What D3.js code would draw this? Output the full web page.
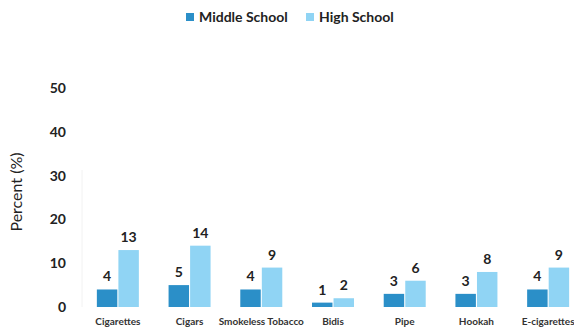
<!DOCTYPE html>
<html>
<head>
<meta charset="utf-8">
<script src="https://cdn.jsdelivr.net/npm/d3@7"></script>
<style>
  body { margin: 0; background: #fff; }
  text { font-family: Lato, "Open Sans", sans-serif; }
</style>
</head>
<body>
<svg width="574" height="327"></svg>
<script>
var categories = ['Cigarettes', 'Cigars', 'Smokeless Tobacco', 'Bidis', 'Pipe', 'Hookah', 'E-cigarettes'];
var series = ['Middle School', 'High School'];
var middleSchool = [4, 5, 4, 1, 3, 3, 4];
var highSchool = [13, 14, 9, 2, 6, 8, 9];
var yTicks = [0, 10, 20, 30, 40, 50];
var colors = ['#2b8fc8', '#90d4f4'];

var svg = d3.select('svg');

var x0 = d3.scaleBand()
    .domain(categories)
    .range([82, 584]);

var mid = x0.bandwidth() / 2;
var x1 = d3.scaleBand()
    .domain(series)
    .range([mid - 21, mid + 21])
    .paddingInner(0.05);

var y = d3.scaleLinear()
    .domain([0, 50])
    .range([307, 88]);

// y axis, no line, just labels
var yAxis = d3.axisLeft(y).tickValues(yTicks).tickSize(0).tickPadding(0);
var gy = svg.append('g')
    .attr('transform', 'translate(66,0)')
    .call(yAxis);
gy.select('.domain').remove();
gy.selectAll('text')
    .attr('font-size', 14)
    .attr('font-weight', 'bold')
    .attr('fill', '#222');

// faint axis line
svg.append('line')
    .attr('x1', 82).attr('x2', 82)
    .attr('y1', 170).attr('y2', y(0))
    .attr('stroke', '#f2f2f2');

svg.append('text')
    .attr('transform', 'translate(22,' + 192 + ') rotate(-90)')
    .attr('text-anchor', 'middle')
    .attr('font-size', 16)
    .attr('fill', '#222')
    .text('Percent (%)');

var rows = categories.map(function(c, i) {
    return { cat: c, vals: [middleSchool[i], highSchool[i]] };
});

var groups = svg.selectAll('g.cat')
    .data(rows)
    .enter().append('g')
    .attr('class', 'cat')
    .attr('transform', function(d) { return 'translate(' + x0(d.cat) + ',0)'; });

groups.selectAll('rect')
    .data(function(d) { return d.vals.map(function(v, j) { return { s: series[j], v: v, j: j }; }); })
    .enter().append('rect')
    .attr('x', function(d) { return x1(d.s); })
    .attr('y', function(d) { return y(d.v); })
    .attr('width', x1.bandwidth())
    .attr('height', function(d) { return y(0) - y(d.v); })
    .attr('fill', function(d) { return colors[d.j]; });

groups.selectAll('text.val')
    .data(function(d) { return d.vals.map(function(v, j) { return { s: series[j], v: v }; }); })
    .enter().append('text')
    .attr('class', 'val')
    .attr('x', function(d) { return x1(d.s) + x1.bandwidth() / 2; })
    .attr('y', function(d) { return y(d.v) - 8; })
    .attr('text-anchor', 'middle')
    .attr('font-size', 14)
    .attr('font-weight', 'bold')
    .attr('fill', '#222')
    .text(function(d) { return d.v; });

groups.append('text')
    .attr('x', mid)
    .attr('y', 325)
    .attr('text-anchor', 'middle')
    .attr('font-size', 10)
    .attr('font-weight', 'bold')
    .attr('fill', '#333')
    .text(function(d) { return d.cat; });

// legend
var legendX = [186, 306];
var legend = svg.selectAll('g.leg')
    .data(series)
    .enter().append('g')
    .attr('class', 'leg')
    .attr('transform', function(d, i) { return 'translate(' + legendX[i] + ',13)'; });

legend.append('rect')
    .attr('width', 8).attr('height', 8)
    .attr('fill', function(d, i) { return colors[i]; });

legend.append('text')
    .attr('x', 13)
    .attr('y', 9)
    .attr('font-size', 14)
    .attr('font-weight', 'bold')
    .attr('fill', '#222')
    .text(function(d) { return d; });
</script>
</body>
</html>
